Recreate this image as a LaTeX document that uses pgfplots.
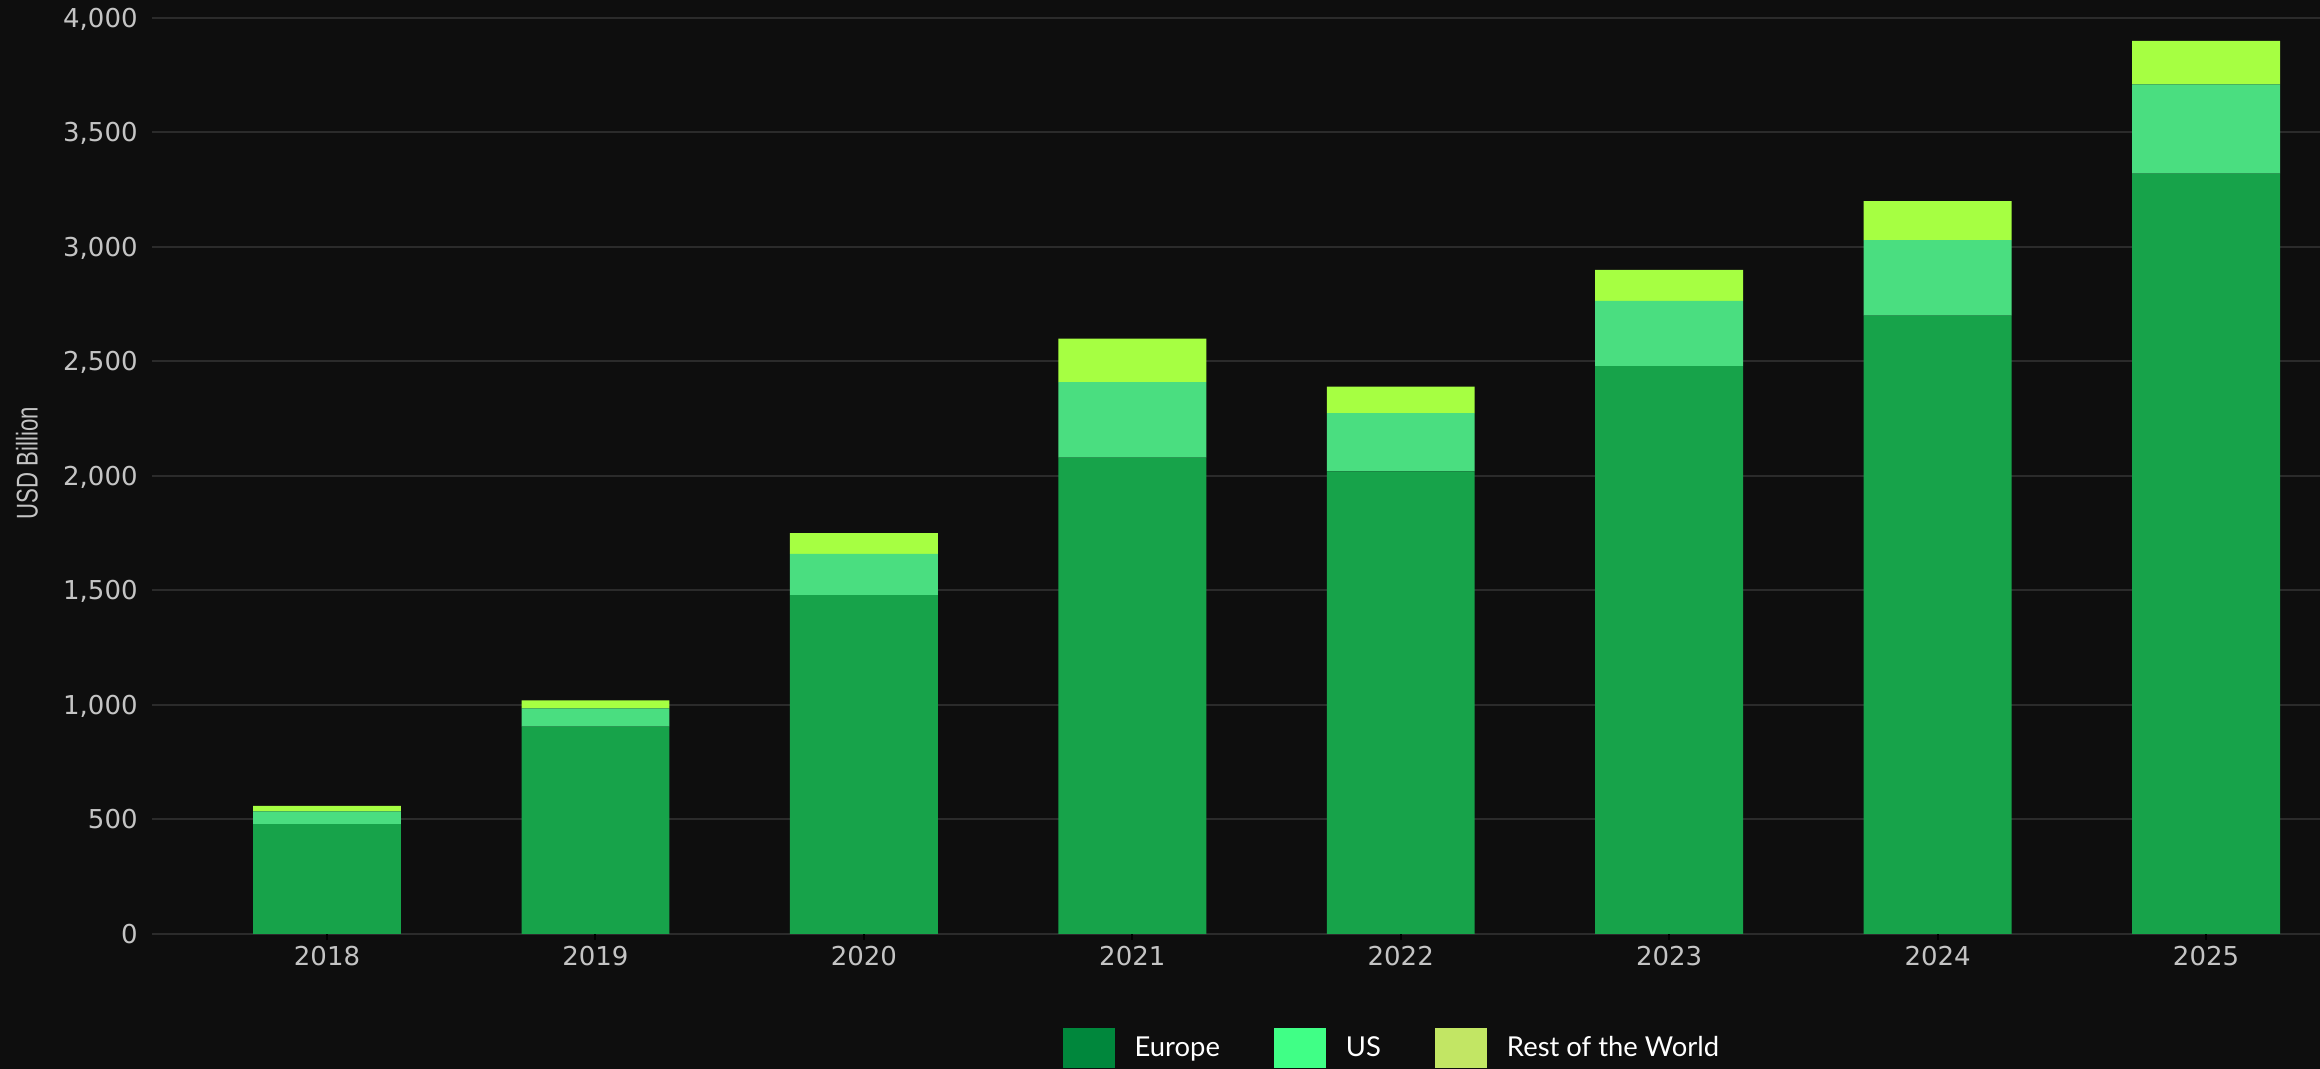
\documentclass[border=0pt]{standalone}
\usepackage{fontspec}
\setmainfont{DejaVu Sans}
\newfontfamily\labfont{Liberation Sans}
\newfontfamily\legfont{Lato}
\usepackage{pgfplots}
\usepackage{pgfplotstable}
\pgfplotsset{compat=1.18}

\definecolor{bg}{HTML}{0E0E0E}
\definecolor{gridc}{HTML}{2B2B2B}
\definecolor{tickc}{HTML}{C4C4C4}
\definecolor{barEU}{HTML}{17A34A}
\definecolor{barUS}{HTML}{4ADE80}
\definecolor{barRW}{HTML}{A6FF42}
\definecolor{legEU}{HTML}{00873C}
\definecolor{legUS}{HTML}{40FF86}
\definecolor{legRW}{HTML}{C2E664}

% year, Europe, US, rest of the world (USD billion)
\pgfplotstableread{
x year europe us row
0 2018 480 55 25
1 2019 905 80 35
2 2020 1480 180 90
3 2021 2080 330 190
4 2022 2020 255 115
5 2023 2480 285 135
6 2024 2700 330 170
7 2025 3320 390 190
}\datatable

\begin{document}
\begin{tikzpicture}
\fill[bg] (-76pt,-67.5pt) rectangle (1084pt,467pt);
\begin{axis}[
    scale only axis,
    width=1084pt, height=458pt,
    ybar stacked,
    bar width=0.551,
    xmin=-0.652, xmax=7.425,
    ymin=0, ymax=4000,
    xtick=data,
    xticklabels={2018,2019,2020,2021,2022,2023,2024,2025},
    ytick={0,500,...,4000},
    xtick pos=bottom,
    ytick pos=left,
    /pgf/number format/assume math mode=true,
    /pgf/number format/1000 sep={,},
    axis line style={draw=none},
    ymajorgrids,
    grid style={gridc, line width=1pt},
    tick align=outside,
    major tick length=3pt,
    xtick style={draw=gridc!150, line width=1pt},
    ytick style={draw=none},
    ticklabel style={font=\fontsize{13}{13}\selectfont, text=tickc},
    xticklabel style={anchor=base, inner sep=0pt, yshift=-13pt},
    yticklabel style={anchor=base east, inner sep=0pt, xshift=-4pt, yshift=-4.74pt},
    every axis y label/.style={at={(axis description cs:-0.0577,0.514)}, rotate=90, anchor=center},
    ylabel={\labfont\fontsize{15}{15}\selectfont\color{tickc}\scalebox{0.74}[1]{USD Billion}},
    legend columns=-1,
    legend style={at={(axis description cs:0.576,-0.098)}, anchor=north, draw=none, fill=none,
        font=\legfont\fontsize{13.7}{13.7}\selectfont, text=white,
        /tikz/every even column/.append style={column sep=17pt},
        nodes={inner xsep=10pt}},
]
\addplot[fill=barEU, draw=none,
    legend image code/.code={\fill[legEU] (0pt,-10pt) rectangle (26pt,10pt);}]
    table[x=x, y=europe] {\datatable};
\addplot[fill=barUS, draw=none,
    legend image code/.code={\fill[legUS] (0pt,-10pt) rectangle (26pt,10pt);}]
    table[x=x, y=us] {\datatable};
\addplot[fill=barRW, draw=none,
    legend image code/.code={\fill[legRW] (0pt,-10pt) rectangle (26pt,10pt);}]
    table[x=x, y=row] {\datatable};
\legend{Europe, US, Rest of the World}
\end{axis}
\pgfresetboundingbox
\path[use as bounding box] (-76pt,-67.5pt) rectangle (1084pt,467pt);
\end{tikzpicture}
\end{document}
